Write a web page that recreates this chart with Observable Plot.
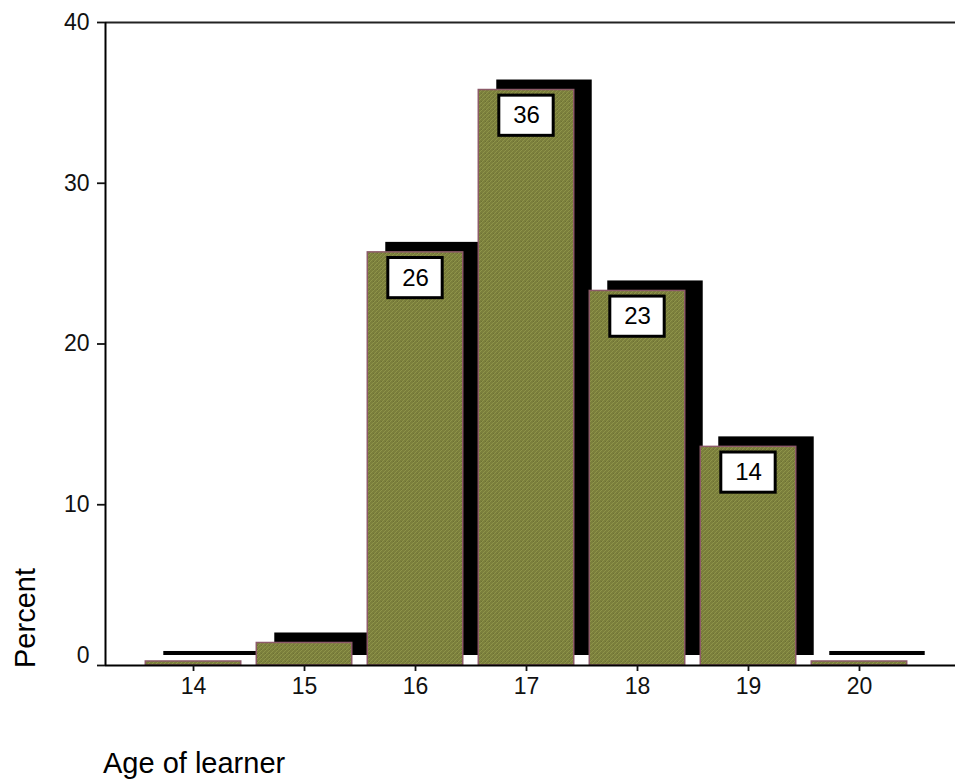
<!DOCTYPE html>
<html>
<head>
<meta charset="utf-8">
<script src="https://cdn.jsdelivr.net/npm/d3@7"></script>
<script src="https://cdn.jsdelivr.net/npm/@observablehq/plot@0.6"></script>
<style>
  body { margin: 0; background: #fff; }
  svg { font-family: "Liberation Sans", Arial, sans-serif; }
</style>
</head>
<body>
<div id="chart"></div>
<script>
const ages = [14, 15, 16, 17, 18, 19, 20];
const percents = [0.25, 1.4, 25.7, 35.8, 23.3, 13.6, 0.25];
const labelAges = [16, 17, 18, 19];
const labelTexts = ["26", "36", "23", "14"];
const yTicks = [0, 10, 20, 30, 40];
const xTitle = "Age of learner";
const yTitle = "Percent";

const bars = ages.map((a, i) => ({age: a, pct: percents[i]}));
const labels = labelAges.map((a, i) => ({age: a, pct: percents[ages.indexOf(a)], text: labelTexts[i]}));

const xMin = 13.207, xMax = 20.865;
const half = 0.43;

const plot = Plot.plot({
  width: 955,
  height: 781,
  marginLeft: 105,
  marginRight: 0,
  marginTop: 22,
  marginBottom: 116,
  style: {background: "#fff", fontFamily: "Liberation Sans, Arial, sans-serif", fontSize: "23px", color: "#111"},
  x: {type: "linear", domain: [xMin, xMax]},
  y: {domain: [0, 40]},
  marks: [
    // shadows
    Plot.rect(bars, {x1: d => d.age - half, x2: d => d.age + half, y1: 0, y2: "pct", fill: "#000", dx: 18, dy: -10}),
    // bars
    Plot.rect(bars, {x1: d => d.age - half, x2: d => d.age + half, y1: 0, y2: "pct", fill: "url(#oliveTex)", stroke: "#8c5a68", strokeWidth: 1.5}),
    // label boxes
    Plot.rect(labels, {x1: d => d.age - 0.245, x2: d => d.age + 0.245, y1: d => d.pct - 2.85, y2: d => d.pct - 0.35, fill: "#fff", stroke: "#000", strokeWidth: 3}),
    Plot.text(labels, {x: "age", y: d => d.pct - 1.6, text: "text", fontSize: 24, fill: "#000"}),
    Plot.ruleY([0], {stroke: "#000", strokeWidth: 1.8}),
    Plot.ruleY([40], {stroke: "#222", strokeWidth: 1.8}),
    Plot.ruleX([xMin], {y1: 0, y2: 40, stroke: "#000", strokeWidth: 2}),
    Plot.axisY({ticks: yTicks, tickSize: 8, tickPadding: 8, fontSize: 23, label: null, strokeWidth: 1.8, tickFormat: d => d === 0 ? "" : String(d)}),
    Plot.text([0], {x: () => xMin, y: d => d, text: d => String(d), dx: -16, dy: -10, textAnchor: "end", fontSize: 23, fill: "#111"}),
    Plot.axisX({ticks: ages, tickSize: 6, tickPadding: 6, fontSize: 23, label: null, tickFormat: d => String(d), strokeWidth: 1.8})
  ]
});

const svg = d3.select(plot);
const defs = svg.insert("defs", ":first-child");
const pat = defs.append("pattern")
  .attr("id", "oliveTex")
  .attr("patternUnits", "userSpaceOnUse")
  .attr("width", 4).attr("height", 4);
pat.append("rect").attr("width", 4).attr("height", 4).attr("fill", "#7b7f3c");
pat.append("path").attr("d", "M0,4 L4,0").attr("stroke", "#8e9449").attr("stroke-width", 1);
pat.append("rect").attr("x", 1).attr("y", 1).attr("width", 1).attr("height", 1).attr("fill", "#6c7034");

svg.append("text")
  .attr("transform", "translate(35,668) rotate(-90)")
  .attr("text-anchor", "start")
  .attr("font-size", 29)
  .attr("fill", "#000")
  .text(yTitle);
svg.append("text")
  .attr("x", 103)
  .attr("y", 773)
  .attr("text-anchor", "start")
  .attr("font-size", 29)
  .attr("fill", "#000")
  .text(xTitle);

document.getElementById("chart").appendChild(plot);
</script>
</body>
</html>
